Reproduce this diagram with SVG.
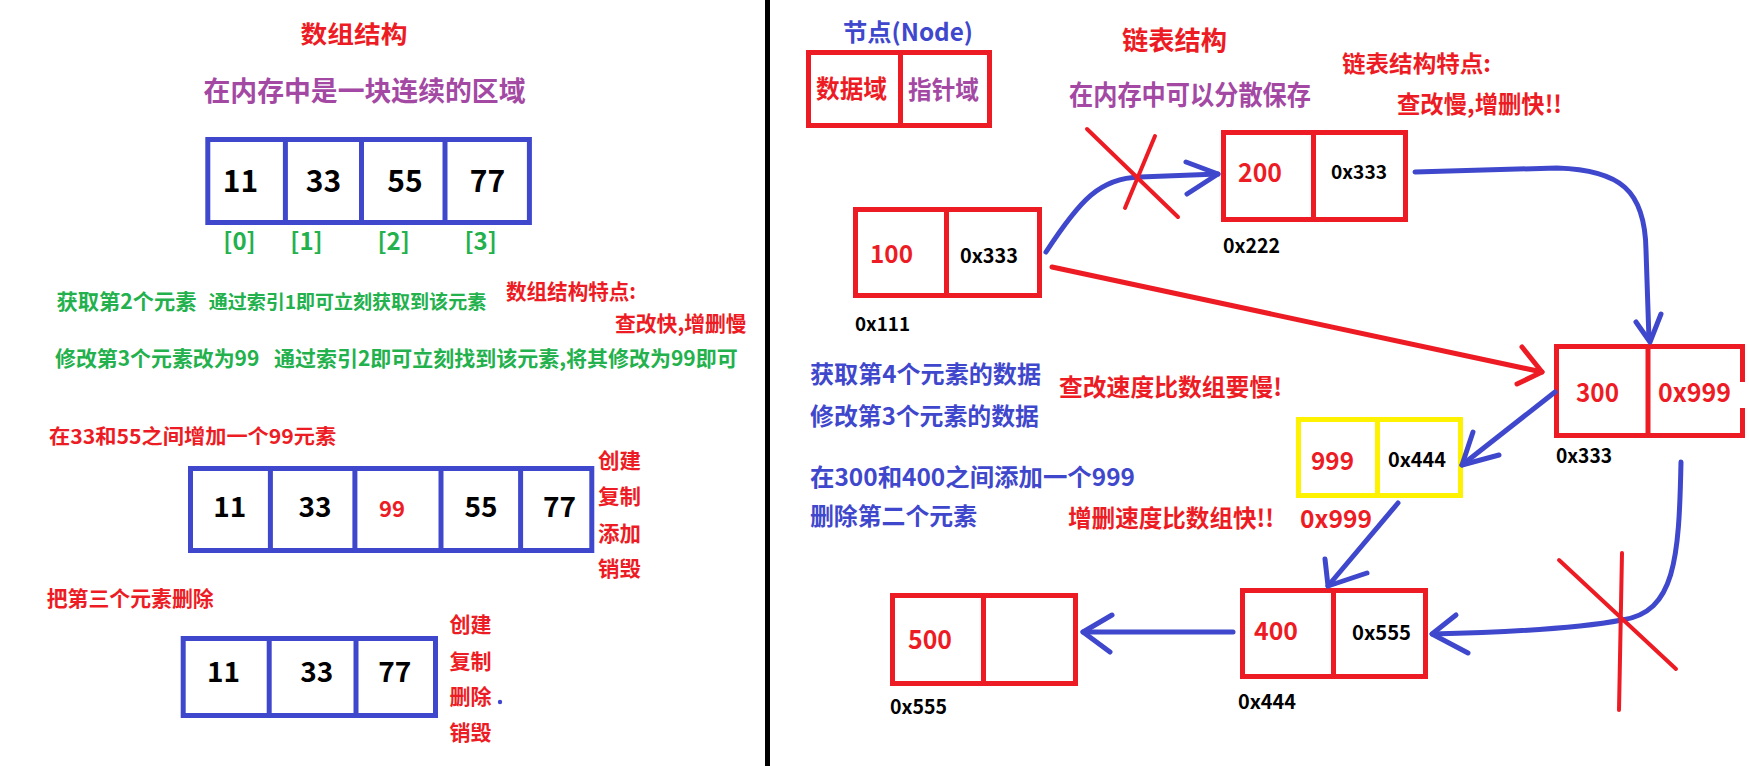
<svg xmlns="http://www.w3.org/2000/svg" width="1749" height="766" viewBox="0 0 1749 766">
<style>
text{font-family:"Noto Sans CJK SC","Liberation Sans",sans-serif;font-weight:700;}
.r{fill:#ed1c24}.b{fill:#3f48cc}.g{fill:#22b14c}.p{fill:#a349a4}.k{fill:#000}
.m{text-anchor:middle}
.abox{fill:none;stroke:#3f48cc;stroke-width:5}
.nbox{fill:none;stroke:#ed1c24;stroke-width:5}
.ndiv{stroke:#ed1c24;stroke-width:5}
.ybox{fill:none;stroke:#fff200;stroke-width:5}
.ydiv{stroke:#fff200;stroke-width:5}
.bl{fill:none;stroke:#3f48cc;stroke-width:5;stroke-linecap:round;stroke-linejoin:round}
.rl{fill:none;stroke:#ed1c24;stroke-width:5;stroke-linecap:round;stroke-linejoin:round}
.x{fill:none;stroke:#ed1c24;stroke-width:4;stroke-linecap:round}
</style>
<rect width="1749" height="766" fill="#fff"/>
<rect x="765" y="0" width="5" height="766" fill="#000"/>

<!-- LEFT: array structure -->
<g id="array-title">
<text class="r" x="300.5" y="43" font-size="24" textLength="107" lengthAdjust="spacingAndGlyphs">数组结构</text>
<text class="p" x="203.5" y="101" font-size="27" textLength="322" lengthAdjust="spacingAndGlyphs">在内存中是一块连续的区域</text>
</g>
<g id="array1">
<rect class="abox" x="207.8" y="139.5" width="321.6" height="83"/>
<line class="abox" x1="285.4" y1="139.5" x2="285.4" y2="222.5"/>
<line class="abox" x1="361.5" y1="139.5" x2="361.5" y2="222.5"/>
<line class="abox" x1="445" y1="139.5" x2="445" y2="222.5"/>
<text class="k m" x="240.5" y="192" font-size="30">11</text>
<text class="k m" x="323.5" y="192" font-size="30">33</text>
<text class="k m" x="405" y="192" font-size="30">55</text>
<text class="k m" x="487.5" y="192" font-size="30">77</text>
<text class="g m" x="239.5" y="250" font-size="24" font-weight="400">[0]</text>
<text class="g m" x="306.5" y="250" font-size="24" font-weight="400">[1]</text>
<text class="g m" x="393.7" y="250" font-size="24" font-weight="400">[2]</text>
<text class="g m" x="480.7" y="250" font-size="24" font-weight="400">[3]</text>
</g>
<g id="array-notes">
<text class="g" x="56.5" y="309" font-size="21" textLength="140" lengthAdjust="spacingAndGlyphs">获取第2个元素</text>
<text class="g" x="208.7" y="309" font-size="19" textLength="277.5" lengthAdjust="spacingAndGlyphs">通过索引1即可立刻获取到该元素</text>
<text class="r" x="506" y="299" font-size="21" textLength="130" lengthAdjust="spacingAndGlyphs">数组结构特点:</text>
<text class="r" x="615" y="331" font-size="21" textLength="131.6" lengthAdjust="spacingAndGlyphs">查改快,增删慢</text>
<text class="g" x="55" y="366" font-size="21" textLength="204.3" lengthAdjust="spacingAndGlyphs">修改第3个元素改为99</text>
<text class="g" x="274" y="366" font-size="21" textLength="463.7" lengthAdjust="spacingAndGlyphs">通过索引2即可立刻找到该元素,将其修改为99即可</text>
<text class="r" x="49" y="444" font-size="20" textLength="287.3" lengthAdjust="spacingAndGlyphs">在33和55之间增加一个99元素</text>
<text class="r" x="598" y="468" font-size="21" textLength="43" lengthAdjust="spacingAndGlyphs">创建</text>
<text class="r" x="598" y="504" font-size="21" textLength="43" lengthAdjust="spacingAndGlyphs">复制</text>
<text class="r" x="598" y="541" font-size="21" textLength="43" lengthAdjust="spacingAndGlyphs">添加</text>
<text class="r" x="598" y="576" font-size="21" textLength="43" lengthAdjust="spacingAndGlyphs">销毁</text>
</g>
<g id="array2">
<rect class="abox" x="190.5" y="468.5" width="401.3" height="82"/>
<line class="abox" x1="270.4" y1="468.5" x2="270.4" y2="550.5"/>
<line class="abox" x1="354.9" y1="468.5" x2="354.9" y2="550.5"/>
<line class="abox" x1="441" y1="468.5" x2="441" y2="550.5"/>
<line class="abox" x1="520.6" y1="468.5" x2="520.6" y2="550.5"/>
<text class="k m" x="229.7" y="517" font-size="28">11</text>
<text class="k m" x="315" y="517" font-size="28">33</text>
<text class="r m" x="392" y="517" font-size="22" font-weight="400">99</text>
<text class="k m" x="481" y="517" font-size="28">55</text>
<text class="k m" x="559.5" y="517" font-size="28">77</text>
</g>
<g id="array-delete">
<text class="r" x="46.7" y="606" font-size="21" textLength="167" lengthAdjust="spacingAndGlyphs">把第三个元素删除</text>
<text class="r" x="449.4" y="632" font-size="21" textLength="42" lengthAdjust="spacingAndGlyphs">创建</text>
<text class="r" x="449.4" y="669" font-size="21" textLength="42" lengthAdjust="spacingAndGlyphs">复制</text>
<text class="r" x="449.4" y="704" font-size="21" textLength="42" lengthAdjust="spacingAndGlyphs">删除</text>
<text class="r" x="449.4" y="740" font-size="21" textLength="42" lengthAdjust="spacingAndGlyphs">销毁</text>
<circle cx="500" cy="702" r="2.2" fill="#3f48cc"/>
</g>
<g id="array3">
<rect class="abox" x="183.2" y="638.5" width="252.3" height="77"/>
<line class="abox" x1="269.2" y1="638.5" x2="269.2" y2="715.5"/>
<line class="abox" x1="356" y1="638.5" x2="356" y2="715.5"/>
<text class="k m" x="223.5" y="682" font-size="28">11</text>
<text class="k m" x="316.8" y="682" font-size="28">33</text>
<text class="k m" x="394.7" y="682" font-size="28">77</text>
</g>

<!-- RIGHT: linked list -->
<g id="node-legend">
<text class="b" x="843" y="41" font-size="24" textLength="130" lengthAdjust="spacingAndGlyphs">节点(Node)</text>
<rect class="nbox" x="808.5" y="52.5" width="181" height="73"/>
<line class="ndiv" x1="900.5" y1="52.5" x2="900.5" y2="125.5"/>
<text class="r" x="816" y="98" font-size="25" textLength="71" lengthAdjust="spacingAndGlyphs">数据域</text>
<text class="p" x="908" y="99" font-size="25" textLength="71" lengthAdjust="spacingAndGlyphs">指针域</text>
</g>
<g id="list-title">
<text class="r" x="1122" y="50" font-size="26" textLength="105" lengthAdjust="spacingAndGlyphs">链表结构</text>
<text class="p" x="1069" y="105" font-size="27" textLength="242" lengthAdjust="spacingAndGlyphs">在内存中可以分散保存</text>
<text class="r" x="1342" y="72" font-size="23" textLength="149" lengthAdjust="spacingAndGlyphs">链表结构特点:</text>
<text class="r" x="1397" y="113" font-size="24" textLength="165" lengthAdjust="spacingAndGlyphs">查改慢,增删快!!</text>
</g>
<g id="list-notes">
<text class="b" x="810" y="383" font-size="24" textLength="231" lengthAdjust="spacingAndGlyphs">获取第4个元素的数据</text>
<text class="b" x="810" y="425" font-size="24" textLength="229" lengthAdjust="spacingAndGlyphs">修改第3个元素的数据</text>
<text class="b" x="810" y="486" font-size="24" textLength="325" lengthAdjust="spacingAndGlyphs">在300和400之间添加一个999</text>
<text class="b" x="810" y="525" font-size="24" textLength="167" lengthAdjust="spacingAndGlyphs">删除第二个元素</text>
<text class="r" x="1059" y="396" font-size="24" textLength="223" lengthAdjust="spacingAndGlyphs">查改速度比数组要慢!</text>
<text class="r" x="1068" y="527" font-size="24" textLength="206" lengthAdjust="spacingAndGlyphs">增删速度比数组快!!</text>
</g>
<g id="node100">
<rect class="nbox" x="855.5" y="209.5" width="184" height="86"/>
<line class="ndiv" x1="946.5" y1="209.5" x2="946.5" y2="297"/>
<text class="r" x="870" y="263" font-size="25" font-weight="400" textLength="43" lengthAdjust="spacingAndGlyphs">100</text>
<text class="k" x="960" y="263" font-size="20" textLength="58" lengthAdjust="spacingAndGlyphs">0x333</text>
<text class="k" x="855" y="331" font-size="19" textLength="55" lengthAdjust="spacingAndGlyphs">0x111</text>
</g>
<g id="node200">
<rect class="nbox" x="1223.5" y="132.5" width="182" height="87"/>
<line class="ndiv" x1="1313.5" y1="132.5" x2="1313.5" y2="221"/>
<text class="r" x="1238" y="182" font-size="26" font-weight="400" textLength="44" lengthAdjust="spacingAndGlyphs">200</text>
<text class="k" x="1331" y="179" font-size="19" textLength="56" lengthAdjust="spacingAndGlyphs">0x333</text>
<text class="k" x="1223" y="253" font-size="20" textLength="57" lengthAdjust="spacingAndGlyphs">0x222</text>
</g>
<g id="node300">
<path class="nbox" d="M1742.5,382 V346.5 H1556.5 V435.5 H1742.5 V408"/>
<line class="ndiv" x1="1648" y1="346.5" x2="1648" y2="437"/>
<text class="r" x="1576" y="402" font-size="26" font-weight="400" textLength="43" lengthAdjust="spacingAndGlyphs">300</text>
<text class="r" x="1658" y="402" font-size="26" font-weight="400" textLength="73" lengthAdjust="spacingAndGlyphs">0x999</text>
<text class="k" x="1556" y="463" font-size="20" textLength="56" lengthAdjust="spacingAndGlyphs">0x333</text>
</g>
<g id="node999">
<rect class="ybox" x="1298.5" y="419.5" width="162" height="76"/>
<line class="ydiv" x1="1377.5" y1="419.5" x2="1377.5" y2="495.5"/>
<text class="r" x="1311" y="470" font-size="25" textLength="43" lengthAdjust="spacingAndGlyphs">999</text>
<text class="k" x="1388" y="467" font-size="20" textLength="58" lengthAdjust="spacingAndGlyphs">0x444</text>
<text class="r" x="1300" y="528" font-size="25" textLength="72" lengthAdjust="spacingAndGlyphs">0x999</text>
</g>
<g id="node400">
<rect class="nbox" x="1242.5" y="590.5" width="183" height="86"/>
<line class="ndiv" x1="1333.5" y1="590.5" x2="1333.5" y2="678"/>
<text class="r" x="1254" y="640" font-size="25" font-weight="400" textLength="44" lengthAdjust="spacingAndGlyphs">400</text>
<text class="k" x="1352" y="640" font-size="20" textLength="59" lengthAdjust="spacingAndGlyphs">0x555</text>
<text class="k" x="1238" y="709" font-size="20" textLength="58" lengthAdjust="spacingAndGlyphs">0x444</text>
</g>
<g id="node500">
<rect class="nbox" x="892.5" y="595.5" width="183" height="88"/>
<line class="ndiv" x1="983.5" y1="595.5" x2="983.5" y2="685"/>
<text class="r" x="908" y="649" font-size="26" font-weight="400" textLength="44" lengthAdjust="spacingAndGlyphs">500</text>
<text class="k" x="890" y="714" font-size="20" textLength="57" lengthAdjust="spacingAndGlyphs">0x555</text>
</g>

<g id="connectors">
<path class="bl" d="M1046,252 C1080,200 1100,178 1140,177 L1218,174"/>
<polyline class="bl" points="1186,162 1218,174 1187,194"/>
<path class="bl" d="M1415,172 L1557,168 C1620,170 1645,190 1646,250 L1649,340"/>
<polyline class="bl" points="1636,322 1650,342 1661,314"/>
<path class="rl" d="M1052,267 L1542,372"/>
<polyline class="rl" points="1522,347 1542,372 1517,384"/>
<path class="bl" d="M1555,392 L1462,465"/>
<polyline class="bl" points="1473,432 1462,465 1499,455"/>
<path class="bl" d="M1398,503 L1328,586"/>
<polyline class="bl" points="1325,559 1328,586 1367,573"/>
<path class="bl" d="M1681,462 C1679,560 1675,612 1622,620 C1580,628 1520,632 1432,634"/>
<polyline class="bl" points="1456,615 1432,634 1468,653"/>
<path class="bl" d="M1233,632 L1083,632"/>
<polyline class="bl" points="1112,615 1083,632 1110,652"/>
<line class="x" x1="1087" y1="129" x2="1178" y2="217"/>
<line class="x" x1="1155" y1="136" x2="1125" y2="208"/>
<line class="x" x1="1559" y1="560" x2="1676" y2="669"/>
<line class="x" x1="1622" y1="553" x2="1619" y2="710"/>
</g>
</svg>
